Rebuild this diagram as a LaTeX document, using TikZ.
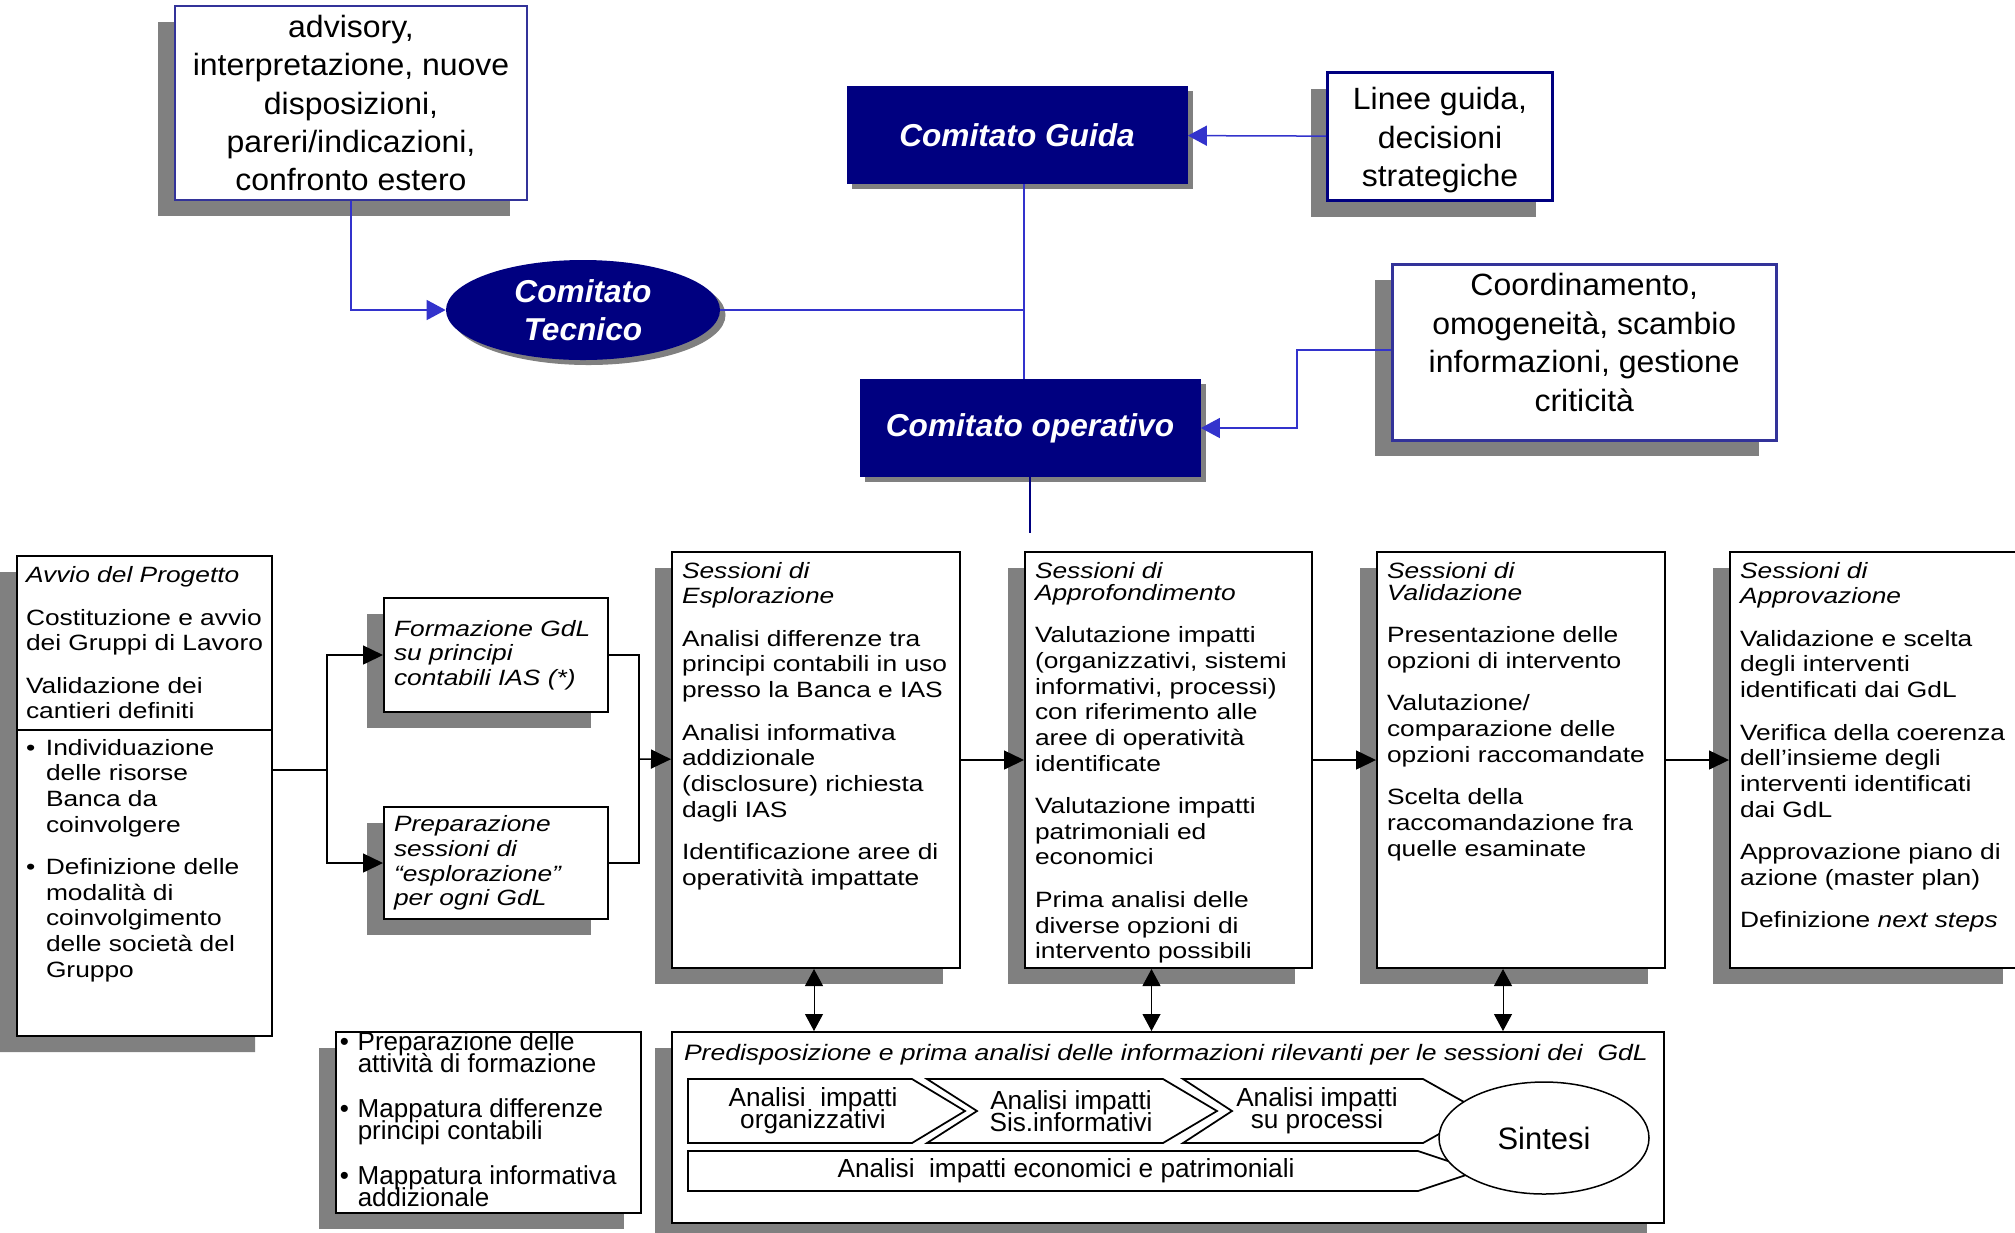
\documentclass[tikz,border=0pt]{standalone}
\usepackage{fontspec}
\setmainfont{Liberation Sans}
\newfontfamily\widefont{Liberation Sans}[FakeStretch=1.19]
\newfontfamily\notefont{Liberation Sans}[FakeStretch=1.04]
\usetikzlibrary{arrows.meta, positioning, calc, shapes.geometric, shapes.multipart, shadows}

\definecolor{navyfill}{HTML}{000080}
\definecolor{linkblue}{HTML}{3333CC}
\definecolor{frameblue}{HTML}{333399}
\definecolor{shadowgray}{HTML}{808080}

\newlength{\pxu}
\setlength{\pxu}{0.2mm}
\newcommand{\tightlines}{\lineskiplimit=-100pt\relax}
% fixed size panel, text starts at the top
\newcommand{\textpanel}[4][9.6pt]{\begin{minipage}[c][#3\pxu][t]{#2\pxu}\rightskip=0pt plus 1fil\relax\tightlines\setlength{\parskip}{#1}#4\end{minipage}}
\newcommand{\bitem}[1][4mm]{\par\hangindent=#1\hangafter=1\noindent\makebox[#1][l]{\textbullet}}

\begin{document}
\begin{tikzpicture}[
    x=0.2mm, y=-0.2mm,
    every node/.style={inner sep=0pt},
    boxshadow/.style={drop shadow={shadow xshift=-3.4mm, shadow yshift=-3.2mm, fill=shadowgray, opacity=1}},
    navyshadow/.style={drop shadow={shadow xshift=1.1mm, shadow yshift=-1mm, fill=shadowgray, opacity=1}},
    navybox/.style={rectangle, fill=navyfill, text=white, minimum width=68.2mm, minimum height=19.6mm, font=\fontsize{18}{21.6}\selectfont\bfseries\itshape, navyshadow},
    note/.style={rectangle, draw=frameblue, line width=0.3mm, fill=white, align=center, font=\notefont\fontsize{17.5}{21.9}\selectfont, boxshadow},
    phase/.style={rectangle, draw, line width=0.4mm, fill=white, anchor=north west, inner xsep=2mm, inner ysep=2mm, font=\widefont\fontsize{12.6}{14.6}\selectfont, boxshadow},
    link/.style={draw=linkblue, line width=0.3mm},
    linkarrow/.style={link, -{Triangle[length=3.8mm, width=4mm]}},
    wire/.style={line width=0.3mm},
    flow/.style={wire, -{Triangle[length=4mm, width=3.8mm]}},
    twoway/.style={line width=0.2mm, {Triangle[length=3.4mm, width=3.6mm]}-{Triangle[length=3.4mm, width=3.6mm]}},
    chevron/.style={draw, line width=0.35mm, fill=white},
    chevtext/.style={align=center, font=\fontsize{14.9}{12.4}\selectfont\tightlines}
    ]
    \useasboundingbox (0,0) rectangle (2015,1232);
    \fill[white] (0,0) rectangle (2015,1232);

    % committees
    \node[note, minimum width=70.4mm, minimum height=38.8mm] (advisory) at (351,103) {advisory,\\interpretazione, nuove\\disposizioni,\\pareri/indicazioni,\\confronto estero};
    \node[ellipse, fill=navyfill, text=white, minimum width=54.8mm, minimum height=20mm, align=center, font=\fontsize{18}{21.6}\selectfont\bfseries\itshape, navyshadow] (tecnico) at (583,310) {Comitato\\Tecnico};
    \node[navybox] (guida) at (1017,135) {Comitato Guida};
    \node[navybox] (operativo) at (1030,428) {Comitato operativo};
    \node[note, draw=navyfill, line width=0.6mm, anchor=north west] (linee) at (1326,71) {\textpanel{225}{128}{\vspace{3mm}\centering Linee guida,\\decisioni\\strategiche}};
    \node[note, line width=0.5mm, anchor=north west] (coord) at (1391,263) {\textpanel{384}{176}{\vspace{1.8mm}\centering Coordinamento,\\omogeneità, scambio\\informazioni, gestione\\criticità}};

    \draw[linkarrow] (advisory) |- (tecnico);
    \draw[linkarrow] (linee) -- (guida);
    \coordinate (hub) at (1024,310);
    \draw[link] (tecnico) -- (hub);
    \draw[link] (guida.south -| hub) -- (operativo.north -| hub);
    \coordinate (bend) at (1297,350);
    \draw[linkarrow] (coord.west |- bend) -- (bend) |- (operativo);
    \coordinate (stub) at (1030,533);
    \draw[draw=navyfill, line width=0.5mm] (operativo.south -| stub) -- (stub);

    % sessions
    \node[phase, rectangle split, rectangle split parts=2, inner xsep=1.8mm, inner ysep=2.4mm] (avvio) at (16,555) {\textpanel{237}{148}{\vspace{-0.5mm}\textit{Avvio del Progetto}\par Costituzione e avvio\\dei Gruppi di Lavoro\par Validazione dei\\cantieri definiti}\nodepart{two}\textpanel{237}{280}{\vspace{-0.8mm}\bitem Individuazione\\delle risorse\\Banca da\\coinvolgere\bitem Definizione delle\\modalità di\\coinvolgimento\\delle società del\\Gruppo}};
    \node[phase, inner ysep=1mm, text width=40.8mm, minimum height=22.8mm, align=left, font=\widefont\itshape\fontsize{12.6}{14}\selectfont] (formazione) at (383,597) {Formazione GdL\\su principi\\contabili IAS (*)};
    \node[phase, inner ysep=1mm, text width=40.8mm, minimum height=22.4mm, align=left, font=\widefont\itshape\fontsize{12.6}{14}\selectfont] (preparazione) at (383,806) {Preparazione\\sessioni di\\“esplorazione”\\per ogni GdL};
    \node[phase] (esplorazione) at (671,551) {\textpanel{268}{396}{\textit{Sessioni di\\Esplorazione}\par Analisi differenze tra\\principi contabili in uso\\presso la Banca e IAS\par Analisi informativa\\addizionale\\(disclosure) richiesta\\dagli IAS\par Identificazione aree di\\operatività impattate}};
    \node[phase] (approfondimento) at (1024,551) {\textpanel{267}{396}{\textit{Sessioni di\\[-2pt]Approfondimento}\par Valutazione impatti\\(organizzativi, sistemi\\informativi, processi)\\con riferimento alle\\aree di operatività\\identificate\par Valutazione impatti\\patrimoniali ed\\economici\par Prima analisi delle\\diverse opzioni di\\intervento possibili}};
    \node[phase] (validazione) at (1376,551) {\textpanel{268}{396}{\textit{Sessioni di\\[-2pt]Validazione}\par Presentazione delle\\opzioni di intervento\par Valutazione/\\comparazione delle\\opzioni raccomandate\par Scelta della\\raccomandazione fra\\quelle esaminate}};
    \node[phase] (approvazione) at (1729,551) {\textpanel{270}{396}{\textit{Sessioni di\\Approvazione}\par Validazione e scelta\\degli interventi\\identificati dai GdL\par Verifica della coerenza\\dell’insieme degli\\interventi identificati\\dai GdL\par Approvazione piano di\\azione (master plan)\par Definizione \textit{next steps}}};

    \coordinate (fork) at (327,770);
    \draw[wire] (fork -| avvio.east) -- (fork);
    \draw[flow] (fork) |- (formazione);
    \draw[flow] (fork) |- (preparazione);
    \coordinate (merge) at (639,759);
    \draw[wire] (formazione) -| (merge);
    \draw[wire] (preparazione) -| (merge);
    \draw[flow] (merge) -- (esplorazione);
    \draw[flow] (esplorazione) -- (approfondimento);
    \draw[flow] (approfondimento) -- (validazione);
    \draw[flow] (validazione) -- (approvazione);

    % preparation and analysis
    \node[phase, line width=0.3mm, inner xsep=0.8mm, inner ysep=0pt, font=\fontsize{14.8}{12.4}\selectfont] (attivita) at (335,1031) {\textpanel[13.4pt]{297}{181}{\bitem[3.6mm]Preparazione delle\\attività di formazione\bitem[3.6mm]Mappatura differenze\\principi contabili\bitem[3.6mm]Mappatura informativa\\addizionale}};
    \node[phase, inner xsep=2.4mm, inner ysep=2.4mm, font=\widefont\itshape\fontsize{12.7}{14}\selectfont] (predisp) at (671,1031) {\textpanel{968}{167}{Predisposizione e prima analisi delle informazioni rilevanti per le sessioni dei\ \ GdL}};

    \draw[chevron] (688,1079) -- (912,1079) -- (965,1111) -- (912,1143) -- (688,1143) -- cycle;
    \draw[chevron] (927,1079) -- (1163,1079) -- (1217,1111) -- (1163,1143) -- (927,1143) -- (977,1111) -- cycle;
    \draw[chevron] (1183,1079) -- (1423,1079) -- (1480,1111) -- (1423,1143) -- (1183,1143) -- (1232,1111) -- cycle;
    \draw[chevron] (688,1151) -- (1418,1151) -- (1478,1171) -- (1418,1191) -- (688,1191) -- cycle;
    \node[chevtext] (orgz) at (813,1111) {Analisi\ \ impatti\\organizzativi};
    \node[chevtext] (sysinfo) at (1071,1111) {Analisi impatti\\Sis.informativi};
    \node[chevtext] (proc) at (1317,1111) {Analisi impatti\\su processi};
    \node[chevtext] (econ) at (1066,1171) {Analisi\ \ impatti economici e patrimoniali};
    \node[ellipse, draw, line width=0.3mm, fill=white, minimum width=42mm, minimum height=22.4mm, font=\fontsize{17.6}{20}\selectfont] (sintesi) at (1544,1138) {Sintesi};

    \foreach \s/\dx in {esplorazione/-2, approfondimento/-17, validazione/-18}
        \draw[twoway] ($(\s.south)+(\dx,0)$) -- ($(\s.south |- predisp.north)+(\dx,0)$);
\end{tikzpicture}
\end{document}
